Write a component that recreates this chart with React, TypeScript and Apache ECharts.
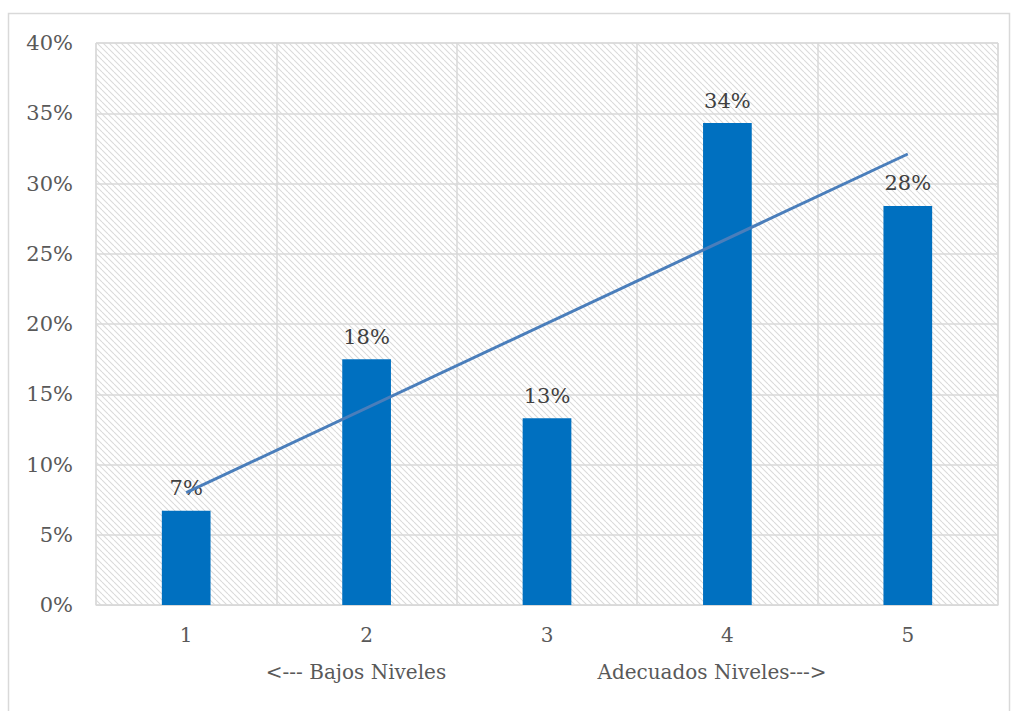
import React, { useEffect, useRef } from "react";
import * as echarts from "echarts";

const categories = ["1", "2", "3", "4", "5"];
const shares = [6.7, 17.5, 13.3, 34.3, 28.4];
const trendEnds = [8.0, null, null, null, 32.1];
const yTicks = { min: 0, max: 40, interval: 5 };
const lowLabel = "<--- Bajos Niveles";
const highLabel = "Adecuados Niveles--->";

const FONT = "DejaVu Serif";

function makeHatch() {
  const c = document.createElement("canvas");
  c.width = 6;
  c.height = 6;
  const ctx = c.getContext("2d")!;
  ctx.fillStyle = "#ffffff";
  ctx.fillRect(0, 0, 6, 6);
  ctx.strokeStyle = "#dadada";
  ctx.lineWidth = 1.1;
  for (const off of [-6, 0, 6]) {
    ctx.beginPath();
    ctx.moveTo(off, 0);
    ctx.lineTo(off + 6, 6);
    ctx.stroke();
  }
  return c.toDataURL();
}

export default function App() {
  const ref = useRef<HTMLDivElement>(null);
  useEffect(() => {
    if (!ref.current) return;
    const chart = echarts.init(ref.current, null, { renderer: "svg" });
    chart.setOption({
      animation: false,
      backgroundColor: "#ffffff",
      grid: {
        left: 96,
        right: 15,
        top: 43,
        bottom: 106,
        show: true,
        borderColor: "#d9d9d9",
        borderWidth: 1,
        backgroundColor: { image: makeHatch(), repeat: "repeat" },
      },
      graphic: [
        {
          type: "rect",
          shape: { x: 8.5, y: 13.5, width: 1001, height: 720 },
          style: { fill: "none", stroke: "#d9d9d9", lineWidth: 1.5 },
          z: -10,
          silent: true,
        },
        {
          type: "text",
          x: 356,
          y: 672,
          style: {
            text: lowLabel,
            font: `20px '${FONT}'`,
            fill: "#595959",
            align: "center",
            verticalAlign: "middle",
          },
        },
        {
          type: "text",
          x: 712,
          y: 672,
          style: {
            text: highLabel,
            font: `20px '${FONT}'`,
            fill: "#595959",
            align: "center",
            verticalAlign: "middle",
          },
        },
      ],
      xAxis: {
        type: "category",
        data: categories,
        boundaryGap: true,
        axisLine: { show: true, lineStyle: { color: "#d9d9d9", width: 1 } },
        axisTick: { show: false },
        splitLine: { show: true, lineStyle: { color: "#d9d9d9", width: 1.5 } },
        axisLabel: {
          color: "#595959",
          fontFamily: FONT,
          fontSize: 20,
          margin: 20,
        },
      },
      yAxis: {
        type: "value",
        min: yTicks.min,
        max: yTicks.max,
        interval: yTicks.interval,
        axisLine: { show: false },
        axisTick: { show: false },
        splitLine: { show: true, lineStyle: { color: "#d9d9d9", width: 1.5 } },
        axisLabel: {
          color: "#595959",
          fontFamily: FONT,
          fontSize: 21,
          margin: 23,
          formatter: (v: number) => `${v}%`,
        },
      },
      series: [
        {
          type: "bar",
          data: shares,
          barWidth: "27%",
          itemStyle: { color: "#0070C0" },
          label: {
            show: true,
            position: "top",
            distance: 12,
            color: "#404040",
            fontFamily: FONT,
            fontSize: 21,
            formatter: (p: any) => `${Math.round(p.value)}%`,
          },
          z: 2,
        },
        {
          type: "line",
          data: trendEnds,
          connectNulls: true,
          symbol: "none",
          lineStyle: { color: "#4A7EBB", width: 3 },
          z: 3,
        },
      ],
    });
    return () => chart.dispose();
  }, []);
  return (
    <div
      ref={ref}
      style={{ position: "absolute", left: 0, top: 0, width: 1013, height: 711 }}
    />
  );
}
